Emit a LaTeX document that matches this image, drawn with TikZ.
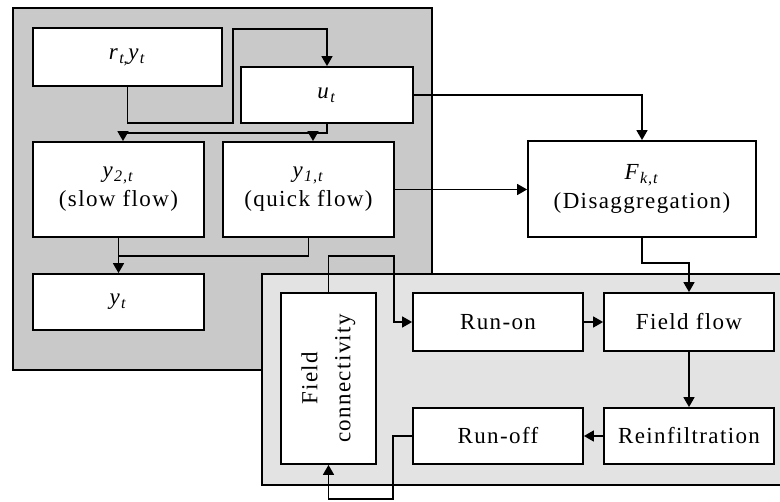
\documentclass[tikz,border=0pt]{standalone}
\usepackage{fontspec}
\setmainfont{Liberation Serif}[LetterSpace=6]
\usetikzlibrary{arrows.meta}
\newcommand{\vx}[2]{\textit{#1}\textsubscript{\textit{#2}}}
\tikzset{
  bx/.style={draw, fill=white, line width=1.8pt, inner sep=0pt, align=center,
    font=\fontsize{23}{29}\selectfont},
  arr/.style={line width=1.6pt, -{Triangle[length=10pt,width=11pt]}},
  ln/.style={line width=1.6pt},
  panel/.style={draw, line width=1.8pt}
}
\begin{document}
\begin{tikzpicture}[x=1pt,y=-1pt]
\useasboundingbox (0,0) rectangle (780,502);
% panels
\draw[panel, fill=gray!42] (13,8) rectangle (432,370);
\draw[panel, fill=gray!22] (262,274) rectangle (800,485);
% nodes
\node[bx, minimum width=189pt, minimum height=58pt] (rtyt) at (127.5,57) {\textit{r}\textsubscript{\textit{t},}\vx{y}{t}};
\node[bx, minimum width=172pt, minimum height=56pt] (ut) at (327,95) {\vx{u}{t}};
\node[bx, minimum width=171pt, minimum height=95pt] (y2) at (118.5,189.5) {\vx{y}{2,t}\\(slow flow)};
\node[bx, minimum width=171pt, minimum height=95pt] (y1) at (308.5,189.5) {\vx{y}{1,t}\\(quick flow)};
\node[bx, minimum width=171pt, minimum height=56pt] (yt) at (118.5,302) {\vx{y}{t}};
\node[bx, minimum width=228pt, minimum height=96pt] (F) at (642,189) {\vx{F}{k,t}\\(Disaggregation)};
\node[bx, minimum width=95pt, minimum height=171pt] (fc) at (328.5,378.5) {};
\node[font=\fontsize{23}{33}\selectfont, align=center, rotate=90] (fct) at (fc.center) {Field\\connectivity};
\node[bx, minimum width=170pt, minimum height=58pt] (runon) at (498,322) {Run-on};
\node[bx, minimum width=170pt, minimum height=58pt] (ff) at (689,322) {Field flow};
\node[bx, minimum width=170pt, minimum height=56pt] (reinf) at (689,436) {Reinfiltration};
\node[bx, minimum width=170pt, minimum height=56pt] (runoff) at (498,436) {Run-off};
% connectors
\coordinate (j1) at (313,133);
\draw[arr] (rtyt.south) |- (233,123) |- (ut.north |- 0,29) -- (ut.north);
\draw[arr] (ut.south) |- (123,133) -- (y2.north -| 123,0);
\draw[arr] (j1) -- (y1.north -| j1);
\draw[arr] (ut.east) -| (F.north);
\draw[arr] (y1.east) -- (F.west |- y1.east);
\draw[arr] (F.south) |- (689,263) -- (ff.north);
\draw[arr] (y2.south) -- (yt.north);
\draw[ln] (y1.south) |- (118.5,256);
\draw[arr] (fc.north) |- (394,256) |- (runon.west);
\draw[arr] (runon.east) -- (ff.west);
\draw[arr] (ff.south) -- (reinf.north);
\draw[arr] (reinf.west) -- (runoff.east);
\draw[arr] (runoff.west) -| (393,499) -| (fc.south);
\end{tikzpicture}
\end{document}
